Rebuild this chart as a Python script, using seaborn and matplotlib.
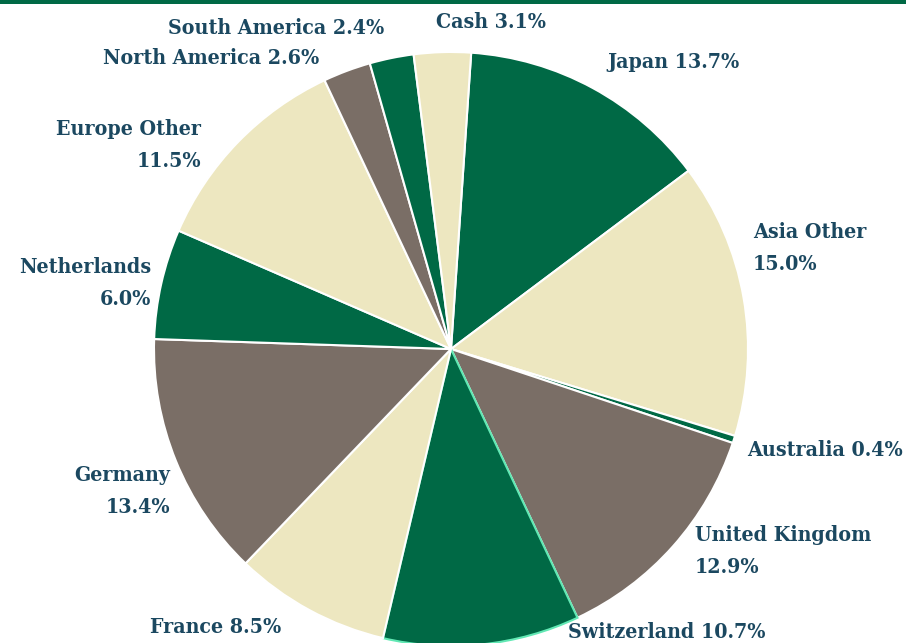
import matplotlib
matplotlib.use("Agg")
import matplotlib.pyplot as plt
import seaborn as sns

# allocation by region, clockwise from the top
regions = ['Japan', 'Asia Other', 'Australia', 'United Kingdom', 'Switzerland', 'France',
           'Germany', 'Netherlands', 'Europe Other', 'North America', 'South America', 'Cash']
weights = [13.7, 15.0, 0.4, 12.9, 10.7, 8.5, 13.4, 6.0, 11.5, 2.6, 2.4, 3.1]
two_line = [False, True, False, True, False, False, True, True, True, False, False, False]

GREEN = '#006945'
CREAM = '#EDE7C0'
TAUPE = '#7A6E66'
TEXT = '#1B4860'
slice_colors = [GREEN, CREAM, GREEN, TAUPE, GREEN, CREAM, TAUPE, GREEN, CREAM, TAUPE, GREEN, CREAM]

# label anchors in pixels (x, y) with alignment
label_pos = [(607, 62, 'left'), (753, 248, 'left'), (747, 450, 'left'), (695, 551, 'left'),
             (568, 632, 'left'), (281, 627, 'right'), (170, 491, 'right'), (151, 283, 'right'),
             (201, 145, 'right'), (319, 58, 'right'), (384, 28, 'right'), (436, 22, 'left')]

W, H = 915, 643
CX, CY, R = 451, 349, 297


def main():
    sns.set_theme(style='white')
    plt.rcParams['font.family'] = ['DejaVu Serif']

    fig = plt.figure(figsize=(W / 100, H / 100), dpi=100)
    ax = fig.add_axes([0, 0, 1, 1])

    wedges, _ = ax.pie(weights, colors=slice_colors, startangle=86.1, counterclock=False,
                       radius=1, wedgeprops=dict(edgecolor='white', linewidth=1.5))
    wedges[4].set_edgecolor('#62E8B4')

    ax.set_aspect('equal')
    ax.set_xlim(-CX / R, (W - CX) / R)
    ax.set_ylim(-(H - CY) / R, CY / R)
    ax.axis('off')

    for name, val, split, (px, py, ha) in zip(regions, weights, two_line, label_pos):
        txt = f'{name}\n{val:.1f}%' if split else f'{name} {val:.1f}%'
        fig.text(px / W, 1 - py / H, txt, ha=ha, va='center', multialignment=ha,
                 fontsize=15.3, fontweight='bold', fontstretch='condensed', color=TEXT,
                 linespacing=1.8)

    # green rule across the top
    fig.add_artist(plt.Rectangle((0, 1 - 4 / H), 906 / W, 4 / H, transform=fig.transFigure,
                                 color=GREEN, lw=0))

    fig.savefig('out.png', dpi=100)
    plt.close(fig)


if __name__ == '__main__':
    main()
